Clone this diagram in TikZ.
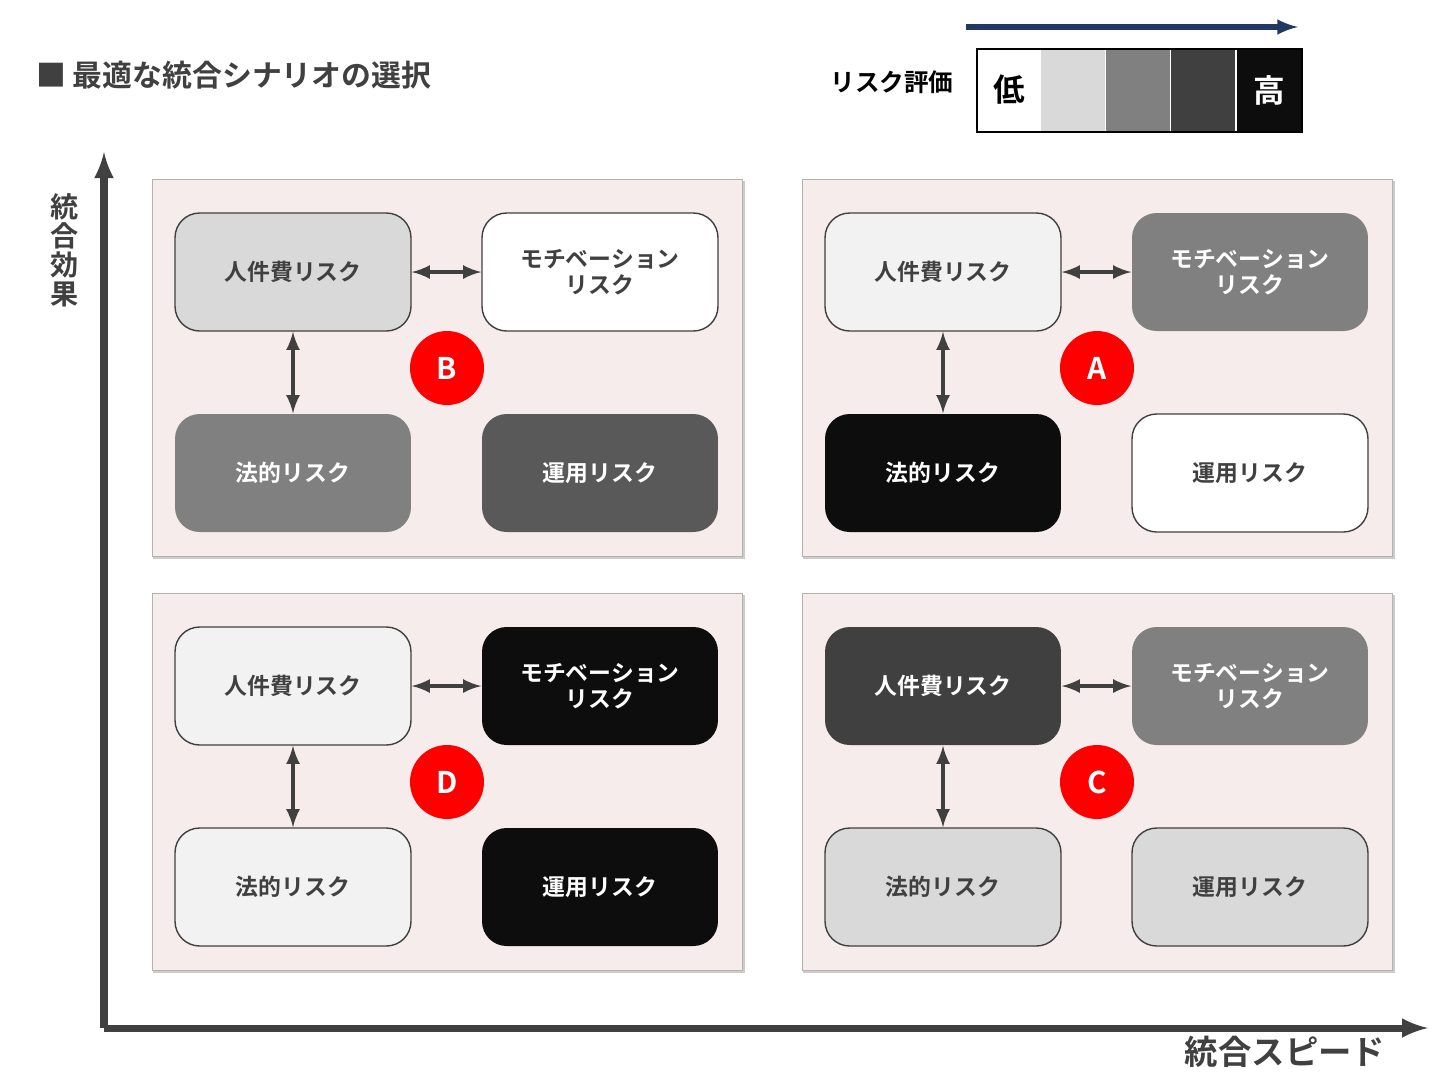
\documentclass[tikz,border=0pt]{standalone}
\usepackage{fontspec}
\setmainfont{Noto Sans CJK JP}[BoldFont={Noto Sans CJK JP Bold}]
\usetikzlibrary{positioning}
\definecolor{rA}{HTML}{F2F2F2}
\definecolor{rB}{HTML}{D9D9D9}
\definecolor{rC}{HTML}{808080}
\definecolor{rD}{HTML}{595959}
\definecolor{rE}{HTML}{404040}
\definecolor{rF}{HTML}{0D0D0D}
\definecolor{panelbg}{HTML}{F7ECEC}
\definecolor{navy}{HTML}{1F3864}
\tikzset{
  riskbox/.style={draw=rE,thick,rounded corners=14pt,minimum width=4.72cm,minimum height=2.36cm,
    align=center,font=\bfseries\fontsize{13}{15}\selectfont},
  lt/.style={text=rE},
  dk/.style={text=white,draw=none},
  dbl/.style={<->,>=latex,line width=2.5pt,draw=rE},
  badge/.style={circle,fill=red,minimum size=1.48cm,text=white,font=\bfseries\fontsize{17}{19}\selectfont},
  legbox/.style={minimum width=1.29cm,minimum height=1.66cm,inner sep=0pt,font=\bfseries\fontsize{18}{20}\selectfont}
}
% one scenario panel: name, dx, dy, letter, styles of the four boxes
\newcommand\scenario[8]{
  \begin{scope}[shift={(#2,#3)}]
    \fill[gray!40] (153,181) rectangle (745,559);
    \draw[fill=panelbg,draw=gray!60] (152,179) rectangle (742,556);
    \node[riskbox,#5] (#1hr) at (293,272) {人件費リスク};
    \node[riskbox,#6] (#1mo) at (600,272) {モチベーション\\リスク};
    \node[riskbox,#7] (#1lg) at (293,473) {法的リスク};
    \node[riskbox,#8] (#1op) at (600,473) {運用リスク};
    \node[badge] (#1bd) at (447,368) {#4};
    \draw[dbl] (#1hr) -- (#1mo);
    \draw[dbl] (#1hr) -- (#1lg);
  \end{scope}
}
\begin{document}
\begin{tikzpicture}[x=0.02cm,y=-0.02cm]
    \useasboundingbox[fill=white] (0,0) rectangle (1454,1090);
    % title and legend
    \node[anchor=west,text=rE,font=\bfseries\fontsize{17}{19}\selectfont] (title) at (30,75) {■ 最適な統合シナリオの選択};
    \node[text=black,font=\bfseries\fontsize{14}{16}\selectfont] (legtitle) at (892,82) {リスク評価};
    \node[legbox,fill=white,draw=black] (lg1) at (1009,90) {低};
    \node[legbox,fill=rB] (lg2) at (1073,90) {};
    \node[legbox,fill=rC] (lg3) at (1138,90) {};
    \node[legbox,fill=rE] (lg4) at (1203,90) {};
    \node[legbox,fill=rF,text=white] (lg5) at (1269,90) {高};
    \draw[black,thick] (977,49) rectangle (1302,132);
    \coordinate (arrs) at (966,27);
    \coordinate (arre) at (1298,27);
    \draw[navy,line width=3pt,-latex] (arrs) -- (arre);
    % axes
    \coordinate (org) at (104,1028);
    \coordinate (ytop) at (104,152);
    \coordinate (xend) at (1428,1028);
    \draw[rE,line width=4pt,-latex] (org) -- (ytop);
    \draw[rE,line width=4pt,-latex] (org) -- (xend);
    \node[text=rE,align=center,font=\bfseries\fontsize{16}{16.5}\selectfont] (ylab) at (65,250) {統\\合\\効\\果};
    \node[text=rE,font=\bfseries\fontsize{19}{21}\selectfont] (xlab) at (1285,1052) {統合スピード};
    % panels
    \scenario{b}{0}{0}{B}{fill=rB,lt}{fill=white,lt}{fill=rC,dk}{fill=rD,dk}
    \scenario{a}{650}{0}{A}{fill=rA,lt}{fill=rC,dk}{fill=rF,dk}{fill=white,lt}
    \scenario{d}{0}{414}{D}{fill=rA,lt}{fill=rF,dk}{fill=rA,lt}{fill=rF,dk}
    \scenario{c}{650}{414}{C}{fill=rE,dk}{fill=rC,dk}{fill=rB,lt}{fill=rB,lt}
\end{tikzpicture}
\end{document}
